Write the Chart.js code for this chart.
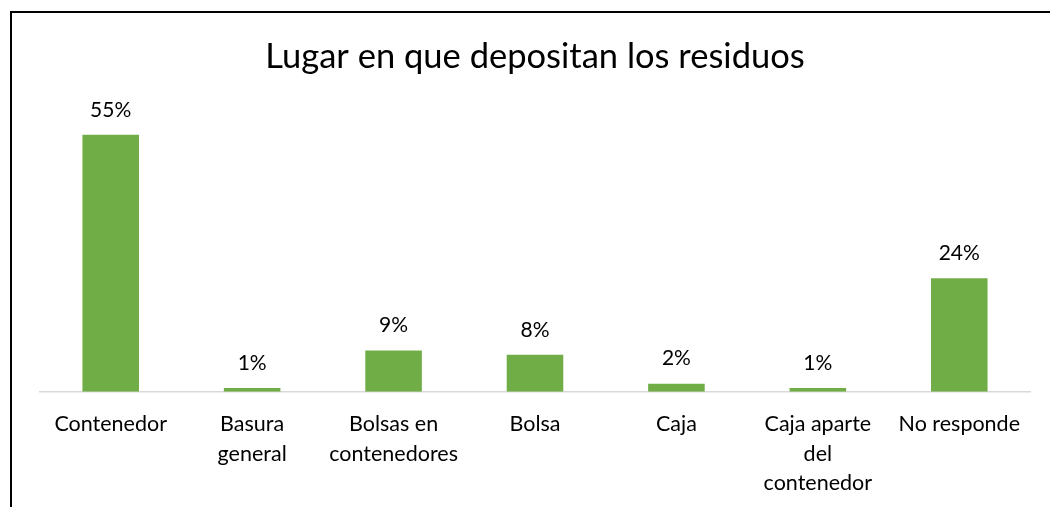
<!DOCTYPE html>
<html>
<head>
<meta charset="utf-8">
<script src="https://cdn.jsdelivr.net/npm/chart.js@4/dist/chart.umd.min.js"></script>
<style>
  body { margin: 0; background: #fff; overflow: hidden; }
  #marco { position: absolute; left: 10px; top: 11px; width: 1100px; height: 600px;
           border-left: 2px solid #000; border-top: 2px solid #000; }
  #grafica { position: absolute; left: 0; top: 0; }
</style>
</head>
<body>
<div id="marco"></div>
<canvas id="grafica" width="1050" height="507"></canvas>
<script>
// categorias y porcentajes
const categorias = [
  "Contenedor",
  ["Basura", "general"],
  ["Bolsas en", "contenedores"],
  "Bolsa",
  "Caja",
  ["Caja aparte", "del", "contenedor"],
  "No responde"
];
const porcentajes = [55, 0.8, 8.8, 7.9, 1.7, 0.8, 24.3];
const etiquetas = ["55%", "1%", "9%", "8%", "2%", "1%", "24%"];

const fuente = "Lato, 'Open Sans', sans-serif";

// etiquetas de datos encima de cada barra
const etiquetasBarras = {
  id: "etiquetasBarras",
  afterDatasetsDraw(chart) {
    const ctx = chart.ctx;
    const meta = chart.getDatasetMeta(0);
    ctx.save();
    ctx.fillStyle = "#000";
    ctx.font = "21px " + fuente;
    ctx.textAlign = "center";
    ctx.textBaseline = "middle";
    meta.data.forEach((barra, i) => {
      ctx.fillText(etiquetas[i], barra.x, barra.y - 25);
    });
    ctx.restore();
  }
};

new Chart(document.getElementById("grafica"), {
  type: "bar",
  data: {
    labels: categorias,
    datasets: [
      {
        label: "Lugar",
        data: porcentajes,
        backgroundColor: "#70AD47",
        categoryPercentage: 1,
        barPercentage: 0.4
      }
    ]
  },
  options: {
    responsive: false,
    animation: false,
    layout: { padding: { left: 40, right: 20, top: 0, bottom: -9 } },
    plugins: {
      legend: { display: false },
      tooltip: { enabled: false },
      title: {
        display: true,
        text: "Lugar en que depositan los residuos",
        color: "#000",
        font: { family: fuente, size: 34.5, weight: "normal", lineHeight: 1.2 },
        padding: { top: 36, bottom: 34 }
      }
    },
    scales: {
      y: { display: false, min: 0, max: 60 },
      x: {
        grid: { display: false, drawTicks: false },
        border: { color: "#D9D9D9", width: 1.5 },
        ticks: {
          color: "#000",
          padding: 18,
          maxRotation: 0,
          autoSkip: false,
          font: { family: fuente, size: 21.5, lineHeight: 1.37 }
        }
      }
    }
  },
  plugins: [etiquetasBarras]
});
</script>
</body>
</html>
